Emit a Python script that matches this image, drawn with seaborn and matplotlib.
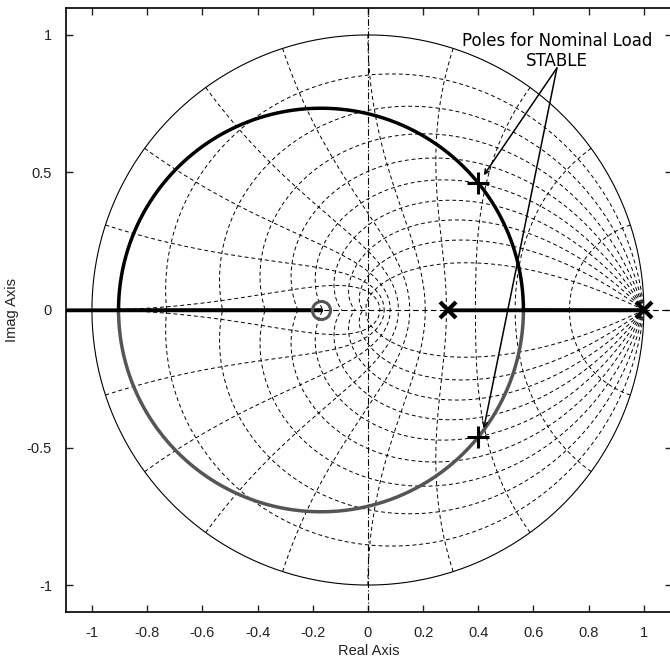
import numpy as np
import matplotlib
matplotlib.use("Agg")
import matplotlib.pyplot as plt
import seaborn as sns

# open-loop poles / zeros of the loop transfer function
ol_poles = [0.29, 1.0]
ol_zeros = [-0.17]
# closed-loop poles for the nominal load
nominal_re = [0.40, 0.40]
nominal_im = [0.46, -0.46]

x_ticks = [-1, -0.8, -0.6, -0.4, -0.2, 0, 0.2, 0.4, 0.6, 0.8, 1]
y_ticks = [-1, -0.5, 0, 0.5, 1]
note_text = "Poles for Nominal Load\nSTABLE"

sns.set_style("ticks")
plt.rcParams['font.family'] = ['Liberation Sans', 'DejaVu Sans']

fig = plt.figure(figsize=(6.7, 6.61), dpi=100)
ax = fig.add_axes([66 / 670, 49 / 661, 606 / 670, 604 / 661])

# ---- z-plane grid (zgrid style) ----
grid_kw = dict(color="black", lw=0.7, ls=(0, (4, 3)), zorder=1)
for zeta in np.arange(0.1, 0.91, 0.1):
    th = np.linspace(0, np.pi, 200)
    r = np.exp(-zeta * th / np.sqrt(1 - zeta ** 2))
    ax.plot(r * np.cos(th), r * np.sin(th), **grid_kw)
    ax.plot(r * np.cos(th), -r * np.sin(th), **grid_kw)
for k in range(1, 11):
    wn = k * np.pi / 10
    zz = np.linspace(0, 1, 200)
    r = np.exp(-zz * wn)
    th = wn * np.sqrt(1 - zz ** 2)
    ax.plot(r * np.cos(th), r * np.sin(th), **grid_kw)
    ax.plot(r * np.cos(th), -r * np.sin(th), **grid_kw)
t = np.linspace(0, 2 * np.pi, 400)
ax.plot(np.cos(t), np.sin(t), color="black", lw=0.8, zorder=1)
ax.axhline(0, color="black", lw=0.8, ls=(0, (5, 3)), zorder=1)
ax.axvline(0, color="black", lw=0.8, ls=(0, (6, 2, 1, 2)), zorder=1)

# ---- root locus from poles / zeros ----
den = np.poly(ol_poles)
num = np.poly(ol_zeros)
# breakaway / break-in gains, so the sweep is dense around them
crit = np.roots(np.polysub(np.polymul(np.polyder(den), num),
                           np.polymul(den, np.polyder(num))))
k_crit = [-np.polyval(den, z.real) / np.polyval(num, z.real) for z in crit]
gains = [np.logspace(-5, 4, 4000)]
for kc in k_crit:
    off = np.logspace(-9, 0, 600) * kc
    gains += [kc - off, kc + off, [kc]]
gains = np.sort(np.concatenate([[0]] + [np.asarray(g) for g in gains]))
gains = gains[gains >= 0]

branches = [[], []]
prev = None
for K in gains:
    cl = np.polyadd(den, K * np.concatenate([[0], num]))
    rts = np.roots(cl)
    if prev is None:
        rts = np.array(sorted(rts, key=lambda z: -z.real))
    else:
        d0 = abs(rts[0] - prev[0]) + abs(rts[1] - prev[1])
        d1 = abs(rts[0] - prev[1]) + abs(rts[1] - prev[0])
        if d1 < d0:
            rts = rts[::-1]
    prev = rts
    branches[0].append(rts[0])
    branches[1].append(rts[1])

b_black = np.array(branches[0])
b_gray = np.array(branches[1])
ax.plot(b_gray.real, b_gray.imag, color="#555555", lw=2.5, zorder=3)
ax.plot(b_black.real, b_black.imag, color="black", lw=2.5, zorder=4)
# real-axis parts of the locus
ax.plot([-1.2, ol_zeros[0]], [0, 0], color="black", lw=2.5, zorder=4)
ax.plot(ol_poles, [0, 0], color="black", lw=2.5, zorder=4)

ax.plot(ol_zeros, [0] * len(ol_zeros), "o", ms=13, mfc="none",
        mec="#555555", mew=2.2, zorder=5)
ax.plot(ol_poles, [0] * len(ol_poles), "x", ms=11, color="black",
        mew=3, zorder=5)
ax.plot(nominal_re, nominal_im, "+", ms=16, color="black", mew=2.2,
        zorder=6)

# annotation
ax.text(0.685, 1.01, note_text, ha="center", va="top", fontsize=12,
        family="DejaVu Sans", color="black", linespacing=1.1, zorder=7)
for xr, yr in zip(nominal_re, nominal_im):
    ax.annotate("", xy=(xr + 0.02, yr + 0.03), xytext=(0.685, 0.88),
                arrowprops=dict(arrowstyle="->", color="black", lw=1.1,
                                shrinkA=0, shrinkB=0, mutation_scale=8),
                zorder=7)

ax.set_xlim(-1.094, 1.102)
ax.set_ylim(-1.098, 1.098)
ax.set_xticks(x_ticks)
ax.set_yticks(y_ticks)
ax.set_xticklabels(["%g" % v for v in x_ticks])
ax.set_yticklabels(["%g" % v for v in y_ticks])
ax.tick_params(direction="in", length=5, width=1, top=True, right=True,
               labelsize=10.5, colors="#222222", pad=10)
for s in ax.spines.values():
    s.set_linewidth(1.2)
    s.set_color("black")
ax.set_xlabel("Real Axis", fontsize=10.5, color="#222222", labelpad=3)
ax.set_ylabel("Imag Axis", fontsize=10.5, color="#222222", labelpad=6)

fig.savefig("out.png", dpi=100)
